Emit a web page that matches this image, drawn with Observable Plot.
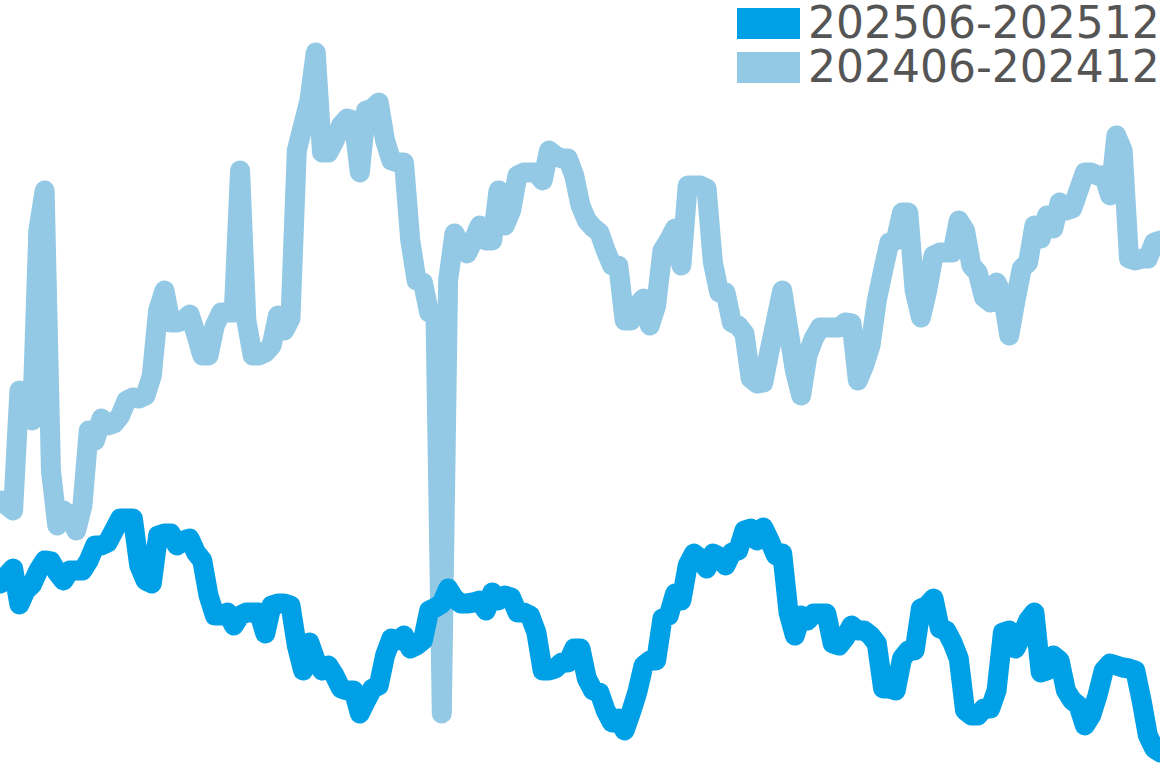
<!DOCTYPE html>
<html>
<head>
<meta charset="utf-8">
<script src="https://cdn.jsdelivr.net/npm/d3@7"></script>
<script src="https://cdn.jsdelivr.net/npm/@observablehq/plot@0.6"></script>
<style>
  html, body { margin: 0; padding: 0; background: #fff; overflow: hidden; }
  #wrap { position: relative; width: 1160px; height: 768px; overflow: hidden; font-family: "DejaVu Sans", sans-serif; }
  .sw { position: absolute; left: 737px; width: 63px; height: 31px; }
  .lab { position: absolute; left: 808px; font-size: 44px; line-height: 44px; color: #555555; white-space: nowrap; }
</style>
</head>
<body>
<div id="wrap"></div>
<script>
const seriesNames = ["202506-202512", "202406-202412"];
const seriesColors = ["#00A0E6", "#93C9E4"];

// 202506-202512 (dark line), one value per day
const values2025 = [
185,193,200,164,178,184,198,208,207,196,188,198,198,198,208,223,223,226,238,250,
250,250,203,188,185,233,235,235,223,228,230,216,208,173,153,153,156,143,153,156,
156,156,135,163,165,165,163,123,98,126,108,98,103,93,80,78,78,55,68,80,
83,113,130,128,133,120,123,128,158,161,165,180,170,165,165,166,168,158,176,168,
173,171,156,156,153,136,98,98,100,106,106,120,120,90,78,76,58,46,50,38,
56,76,103,108,108,150,153,175,168,203,215,210,200,215,212,203,216,218,238,240,
228,241,228,213,215,156,133,153,148,155,155,155,125,123,131,143,138,138,133,125,
80,80,78,110,118,118,160,163,170,140,138,126,110,58,53,53,60,60,78,136,
138,120,133,148,156,96,98,113,108,78,68,63,43,53,73,98,105,103,101,100,
98,68,33,20,16
];

// 202406-202412 (light line), one value per day
const values2024 = [
268,263,258,378,368,348,538,578,298,243,258,253,238,263,338,328,350,343,345,353,
368,371,370,373,393,458,478,446,446,448,454,435,413,413,443,456,456,456,598,448,
413,413,416,423,453,438,450,618,643,668,716,616,616,628,643,650,648,596,658,660,
666,628,608,606,606,528,488,486,456,454,55,488,535,523,515,528,543,528,528,578,
543,558,593,596,596,596,588,618,613,610,610,593,563,548,541,536,518,503,503,448,
448,463,470,443,463,518,528,540,503,583,583,583,580,506,476,476,446,443,435,390,
385,386,418,448,478,438,398,373,413,430,441,441,441,441,446,445,388,403,423,468,
498,526,528,556,556,478,451,478,513,516,516,516,548,538,503,496,471,466,486,473,
433,468,500,506,543,530,553,540,566,558,560,578,596,596,593,593,573,633,618,510,
508,510,510,526,528
];

const rows = [];
values2024.forEach((v, i) => rows.push({day: i, value: v, series: seriesNames[1]}));
values2025.forEach((v, i) => rows.push({day: i, value: v, series: seriesNames[0]}));

const chart = Plot.plot({
  width: 1160,
  height: 768,
  margin: 0,
  x: {domain: [0, values2024.length - 1], axis: null},
  y: {domain: [0, 768], axis: null},
  color: {domain: seriesNames, range: seriesColors},
  style: {background: "white", overflow: "hidden"},
  marks: [
    Plot.line(rows.filter(d => d.series === seriesNames[1]), {x: "day", y: "value", stroke: "series", strokeWidth: 20, strokeLinejoin: "round", strokeLinecap: "round"}),
    Plot.line(rows.filter(d => d.series === seriesNames[0]), {x: "day", y: "value", stroke: "series", strokeWidth: 20, strokeLinejoin: "round", strokeLinecap: "round"})
  ]
});
const wrap = document.getElementById("wrap");
wrap.appendChild(chart);

// legend overlay, top right
const legendTops = [8, 52];
seriesNames.forEach((name, i) => {
  const sw = document.createElement("div");
  sw.className = "sw";
  sw.style.top = legendTops[i] + "px";
  sw.style.background = seriesColors[i];
  wrap.appendChild(sw);
  const lab = document.createElement("div");
  lab.className = "lab";
  lab.style.top = (legendTops[i] - 7) + "px";
  lab.textContent = name;
  wrap.appendChild(lab);
});
</script>
</body>
</html>
